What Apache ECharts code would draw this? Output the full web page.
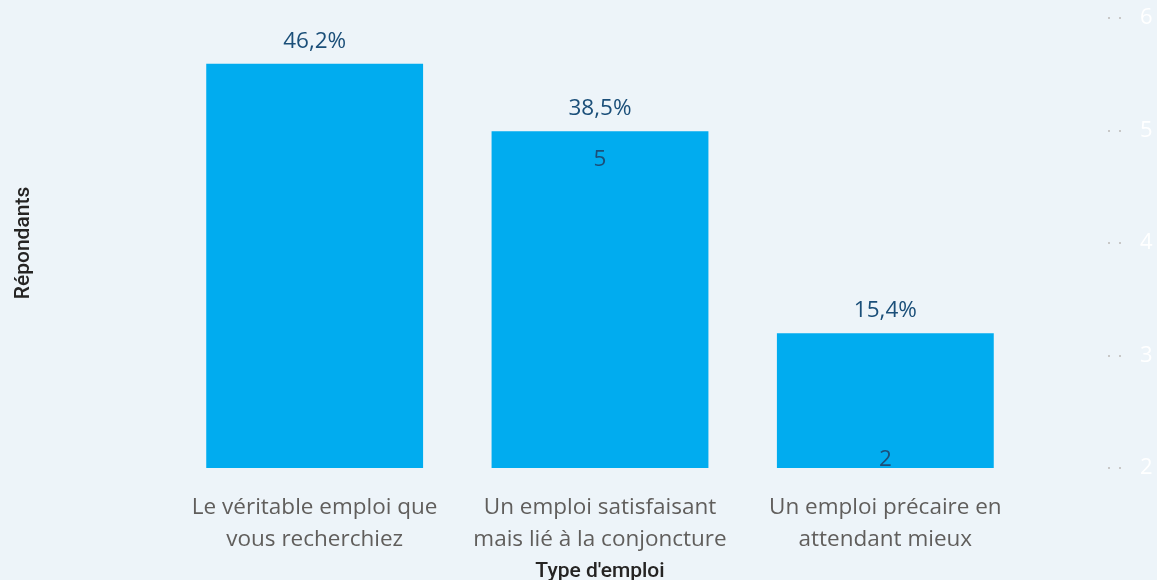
<!DOCTYPE html>
<html>
<head>
<meta charset="utf-8">
<script src="https://cdn.jsdelivr.net/npm/echarts@6/dist/echarts.min.js"></script>
<style>
  html, body { margin: 0; padding: 0; background: #edf4f9; }
  #chart { width: 1157px; height: 580px; }
</style>
</head>
<body>
<div id="chart"></div>
<script>
// données
var categories = [
    'Le véritable emploi que\nvous recherchiez',
    'Un emploi satisfaisant\nmais lié à la conjoncture',
    'Un emploi précaire en\nattendant mieux'
];
var repondants = [6, 5, 2];
var pourcentages = [46.2, 38.5, 15.4];
var rightTicks = [2, 3, 4, 5, 6];

var chart = echarts.init(document.getElementById('chart'), null, { renderer: 'canvas' });

var options = {
    backgroundColor: '#edf4f9',
    animation: false,
    grid: {
        top: 18,
        bottom: 112,
        left: 172,
        right: 129,
        outerBoundsMode: 'none',
        containLabel: false
    },
    xAxis: {
        type: 'category',
        data: categories,
        name: "Type d'emploi",
        nameLocation: 'middle',
        nameGap: 83,
        nameTextStyle: {
            fontFamily: 'Roboto',
            fontWeight: 500,
            fontSize: 21,
            color: '#252423'
        },
        axisLine: { show: false },
        axisTick: { show: false },
        axisLabel: {
            interval: 0,
            margin: 24,
            fontFamily: 'Open Sans',
            fontSize: 22.5,
            lineHeight: 32,
            color: '#605e5c'
        }
    },
    yAxis: [{
        type: 'value',
        min: 0,
        max: 6.68,
        name: 'Répondants',
        nameLocation: 'middle',
        nameGap: 138,
        nameTextStyle: {
            fontFamily: 'Roboto',
            fontWeight: 500,
            fontSize: 21,
            color: '#252423'
        },
        axisLine: { show: false },
        axisTick: { show: false },
        axisLabel: { show: false },
        splitLine: { show: false }
    }, {
        type: 'value',
        position: 'right',
        min: rightTicks[0],
        max: rightTicks[rightTicks.length - 1],
        interval: 1,
        offset: 80,
        axisLine: { show: false },
        axisTick: {
            show: true,
            length: 13,
            lineStyle: { color: '#c8c8c8', width: 2, type: [2, 9] }
        },
        axisLabel: {
            margin: 32,
            fontFamily: 'Open Sans',
            fontSize: 22,
            color: '#ffffff'
        },
        splitLine: { show: false }
    }],
    series: [{
        name: 'Répondants',
        type: 'bar',
        yAxisIndex: 0,
        data: repondants,
        barWidth: '76%',
        itemStyle: { color: '#01acef' },
        label: {
            show: true,
            position: 'top',
            distance: 11,
            fontFamily: 'Open Sans',
            fontSize: 22.5,
            color: '#1b4f79',
            formatter: function (p) {
                return pourcentages[p.dataIndex].toFixed(1).replace('.', ',') + '%';
            }
        }
    }, {
        name: 'Nombre',
        type: 'line',
        yAxisIndex: 1,
        symbol: 'circle',
        symbolSize: 1,
        showSymbol: true,
        itemStyle: { color: 'rgba(0,0,0,0)' },
        lineStyle: { width: 0, color: 'rgba(0,0,0,0)' },
        z: 5,
        data: [
            { value: repondants[0], label: { show: false } },
            { value: repondants[1], label: { position: 'bottom', distance: 17 } },
            { value: repondants[2], label: { position: 'top', distance: -4 } }
        ],
        label: {
            show: true,
            fontFamily: 'Open Sans',
            fontSize: 22.5,
            color: '#1b4f79'
        }
    }]
};

chart.setOption(options);
</script>
</body>
</html>
